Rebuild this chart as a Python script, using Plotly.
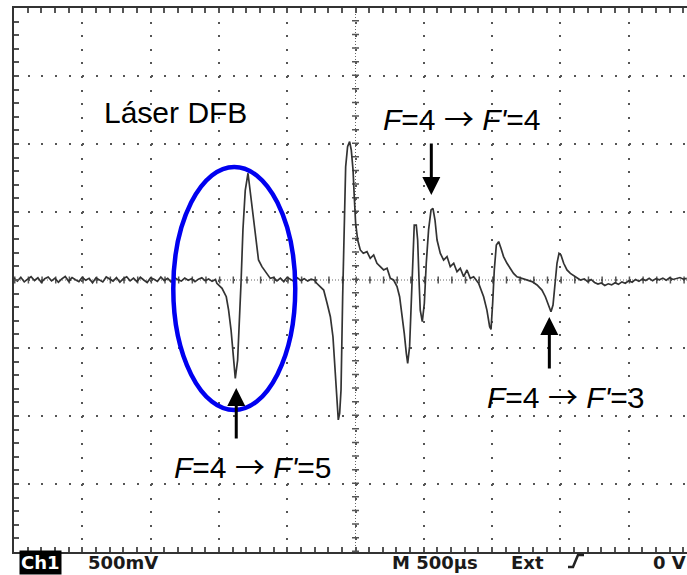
import plotly.graph_objects as go

# ---------------- data (time in µs, signal in mV; 500 µs/div, 500 mV/div) ----------------
t_base_left = [0, 25, 50, 75, 100, 125, 150, 175, 200, 225, 250, 275, 300, 325, 350, 375, 400, 425, 450, 475,
               500, 525, 550, 575, 600, 625, 650, 675, 700, 725, 750, 775, 800, 825, 850, 875, 900, 925, 950, 975,
               1000, 1025, 1050, 1075, 1100, 1125, 1150, 1175, 1200, 1225, 1250, 1275, 1300, 1325, 1350, 1375,
               1400, 1425, 1450, 1475]
v_base_left = [12, -8, 20, -14, 6, 24, -4, 16, -18, 10, 22, -6, 14, -16, 8, 26, -10, 18, 2, -12,
               20, -2, 12, -20, 16, 4, -14, 22, 8, -8, 18, -16, 10, 24, -6, 14, -12, 20, 0, -18,
               16, 6, -10, 22, -4, 12, -14, 18, 2, -8, 14, -2, 10, -12, 6, 16, -6, 8, -10, 4]

t_f5 = [1485, 1523, 1554, 1571, 1589, 1604, 1620, 1637, 1652, 1662, 1676, 1693, 1713, 1730, 1767, 1790, 1815,
        1852, 1876]
v_f5 = [-24, -61, -123, -221, -368, -564, -723, -590, -270, -20, 370, 660, 785, 640, 370, 147, 98, 49, 12]

t_base_mid = [1900, 1925, 1950, 1975, 2000, 2025, 2050, 2075, 2100, 2125, 2150, 2175, 2200]
v_base_mid = [18, -6, 14, -12, 20, 4, -10, 16, -4, 10, -8, 6, -2]

t_cross = [2216, 2267, 2292, 2316, 2335, 2347, 2359, 2369, 2374, 2384, 2394, 2406, 2418, 2428, 2442, 2457, 2469,
           2482, 2491, 2501, 2516, 2535, 2557, 2584, 2608, 2633, 2657, 2681, 2706, 2731, 2755, 2779]
v_cross = [-24, -74, -171, -270, -417, -613, -833, -1005, -1029, -980, -809, -123, 490, 833, 980, 1017, 956,
           809, 613, 417, 294, 221, 196, 208, 159, 184, 123, 98, 74, 86, 12, 0]

t_f4 = [2804, 2823, 2840, 2857, 2872, 2882, 2896, 2909, 2921, 2930, 2945, 2955, 2965, 2974, 2989, 3004, 3018,
        3035, 3053, 3067, 3082, 3097, 3121, 3145, 3170, 3194, 3219, 3243, 3267, 3292, 3316, 3340, 3365]
v_f4 = [-49, -123, -245, -392, -539, -613, -490, -123, 294, 404, 404, 294, 0, -221, -306, -171, 123,
        368, 515, 527, 441, 294, 196, 147, 172, 98, 123, 61, 86, 24, 74, 12, 24]

t_f3 = [3401, 3438, 3462, 3482, 3492, 3504, 3516, 3531, 3548, 3565, 3584, 3609, 3633, 3657, 3682, 3719, 3755,
        3792, 3829, 3865, 3890, 3914, 3931, 3946, 3960, 3975, 3990, 4004, 4024, 4048, 4073, 4109, 4146]
v_f3 = [-24, -123, -221, -343, -363, -171, 74, 257, 282, 233, 172, 123, 86, 49, 24, 12, 0,
        -12, -37, -74, -123, -196, -233, -184, -49, 123, 196, 184, 123, 74, 49, 24, 0]

t_base_right = [4175, 4200, 4225, 4250, 4275, 4300, 4325, 4350, 4375, 4400, 4425, 4450, 4475, 4500, 4525, 4550,
                4575, 4600, 4625, 4650, 4675, 4700, 4725, 4750, 4775, 4800, 4825, 4850, 4875, 4900, 4925]
v_base_right = [8, -12, 4, -18, -30, -22, -40, -28, -36, -20, -32, -14, -24, -6, -16, 4,
                -10, 8, -4, 12, -6, 10, 2, 14, -2, 16, 4, 10, 18, 6, 12]

time_us = t_base_left + t_f5 + t_base_mid + t_cross + t_f4 + t_f3 + t_base_right
signal_mv = v_base_left + v_f5 + v_base_mid + v_cross + v_f4 + v_f3 + v_base_right

ARROW = "<span style=\"font-family:'Noto Sans CJK JP'\">→</span>"
labels = ["Láser DFB",
          "<i>F</i>=4 " + ARROW + " <i>F'</i>=4",
          "<i>F</i>=4 " + ARROW + " <i>F'</i>=5",
          "<i>F</i>=4 " + ARROW + " <i>F'</i>=3"]
scope_texts = ["Ch1", "500mV", "M 500µs", "Ext", "0 V"]

# ---------------- layout geometry ----------------
L, T, W, H = 14, 8, 673, 544
X_MAX = W / 68.3 * 500
Y_MIN, Y_MAX = -2000, 2000


def xp(px):
    return (px - L) / W


def yp(py):
    return (T + H - py) / H


fig = go.Figure()
fig.add_trace(go.Scatter(x=time_us, y=signal_mv, mode="lines",
                         line=dict(color="#333333", width=1.7), hoverinfo="skip"))

grid_col = "#555555"
fig.update_xaxes(range=[0, X_MAX], dtick=500, tick0=0, showticklabels=False,
                 showgrid=True, gridcolor=grid_col, gridwidth=2, griddash="2px,11.6px",
                 zeroline=False, showline=True, linecolor="#333333", linewidth=2, mirror="ticks",
                 ticks="inside", ticklen=5, tickcolor="#555555", tickwidth=1.5,
                 minor=dict(dtick=100, tick0=0, ticks="inside", ticklen=5, tickcolor="#555555",
                            tickwidth=1.5, showgrid=False))
fig.update_yaxes(range=[Y_MIN, Y_MAX], dtick=500, tick0=0, showticklabels=False,
                 showgrid=True, gridcolor=grid_col, gridwidth=2, griddash="2px,11.66px",
                 zeroline=False, showline=True, linecolor="#333333", linewidth=2, mirror=False,
                 ticks="inside", ticklen=5, tickcolor="#555555", tickwidth=1.5,
                 minor=dict(dtick=100, tick0=0, ticks="inside", ticklen=5, tickcolor="#555555",
                            tickwidth=1.5, showgrid=False))

shapes = []
# center crosshair: fine dotted line + tick marks
shapes.append(dict(type="line", xref="paper", yref="y", x0=0, x1=1, y0=0, y1=0,
                   line=dict(color="#666666", width=1, dash="1px,2px"), layer="below"))
shapes.append(dict(type="line", xref="paper", yref="y", x0=0, x1=1, y0=0, y1=0,
                   line=dict(color="#555555", width=7, dash="1.5px,12.16px"), layer="below"))
shapes.append(dict(type="line", xref="x", yref="paper", x0=2500, x1=2500, y0=0, y1=1,
                   line=dict(color="#666666", width=1, dash="1px,2px"), layer="below"))
shapes.append(dict(type="line", xref="x", yref="paper", x0=2500, x1=2500, y0=0, y1=1,
                   line=dict(color="#555555", width=7, dash="1.5px,12.1px"), layer="below"))
# blue ellipse around F=4 -> F'=5
shapes.append(dict(type="circle", xref="x", yref="y", x0=1166, x1=2059, y0=-956, y1=831,
                   line=dict(color="#0000F0", width=4.5)))
# trigger slope symbol
shapes.append(dict(type="path", xref="paper", yref="paper",
                   path=f"M {xp(568)} {yp(567)} L {xp(573)} {yp(567)} L {xp(578)} {yp(555)} L {xp(584)} {yp(555)}",
                   line=dict(color="#222222", width=2.5)))
fig.update_layout(shapes=shapes)

lab_font = dict(family="Liberation Sans, Arial, sans-serif", size=30, color="black")
ann = [
    dict(x=1181, y=1235, text=labels[0]),
    dict(x=3278, y=1199, text=labels[1]),
    dict(x=1748, y=-1360, text=labels[2]),
    dict(x=4043, y=-846, text=labels[3]),
]
annotations = []
for a in ann:
    annotations.append(dict(x=a["x"], y=a["y"], xref="x", yref="y", text=a["text"], showarrow=False,
                            font=lab_font, xanchor="center", yanchor="middle"))

arrows = [(1627, -794, -1176), (3055, 625, 1015), (3919, -272, -662)]
for x, ytip, ytail in arrows:
    annotations.append(dict(x=x, y=ytip, ax=x, ay=ytail, xref="x", yref="y", axref="x", ayref="y",
                            text="", showarrow=True, arrowhead=2, arrowwidth=3, arrowsize=1.2,
                            arrowcolor="black", standoff=0, startstandoff=0))

scope_font = dict(family="DejaVu Sans, sans-serif", size=18, color="#1a1a1a")
ybot = yp(562)
annotations.append(dict(x=xp(40), y=ybot, xref="paper", yref="paper", text="<b>" + scope_texts[0] + "</b>",
                        showarrow=False, xanchor="center", yanchor="middle",
                        font=dict(family="DejaVu Sans, sans-serif", size=18, color="white"),
                        bgcolor="black", borderpad=1))
for txt, px in zip(scope_texts[1:], [86, 390, 509, 651]):
    annotations.append(dict(x=xp(px), y=ybot, xref="paper", yref="paper", text="<b>" + txt + "</b>",
                            showarrow=False, xanchor="left", yanchor="middle", font=scope_font))
fig.update_layout(annotations=annotations)

fig.update_layout(width=687, height=575, margin=dict(l=L, r=0, t=T, b=575 - T - H),
                  plot_bgcolor="white", paper_bgcolor="white", showlegend=False)

fig.write_html("out.html")
